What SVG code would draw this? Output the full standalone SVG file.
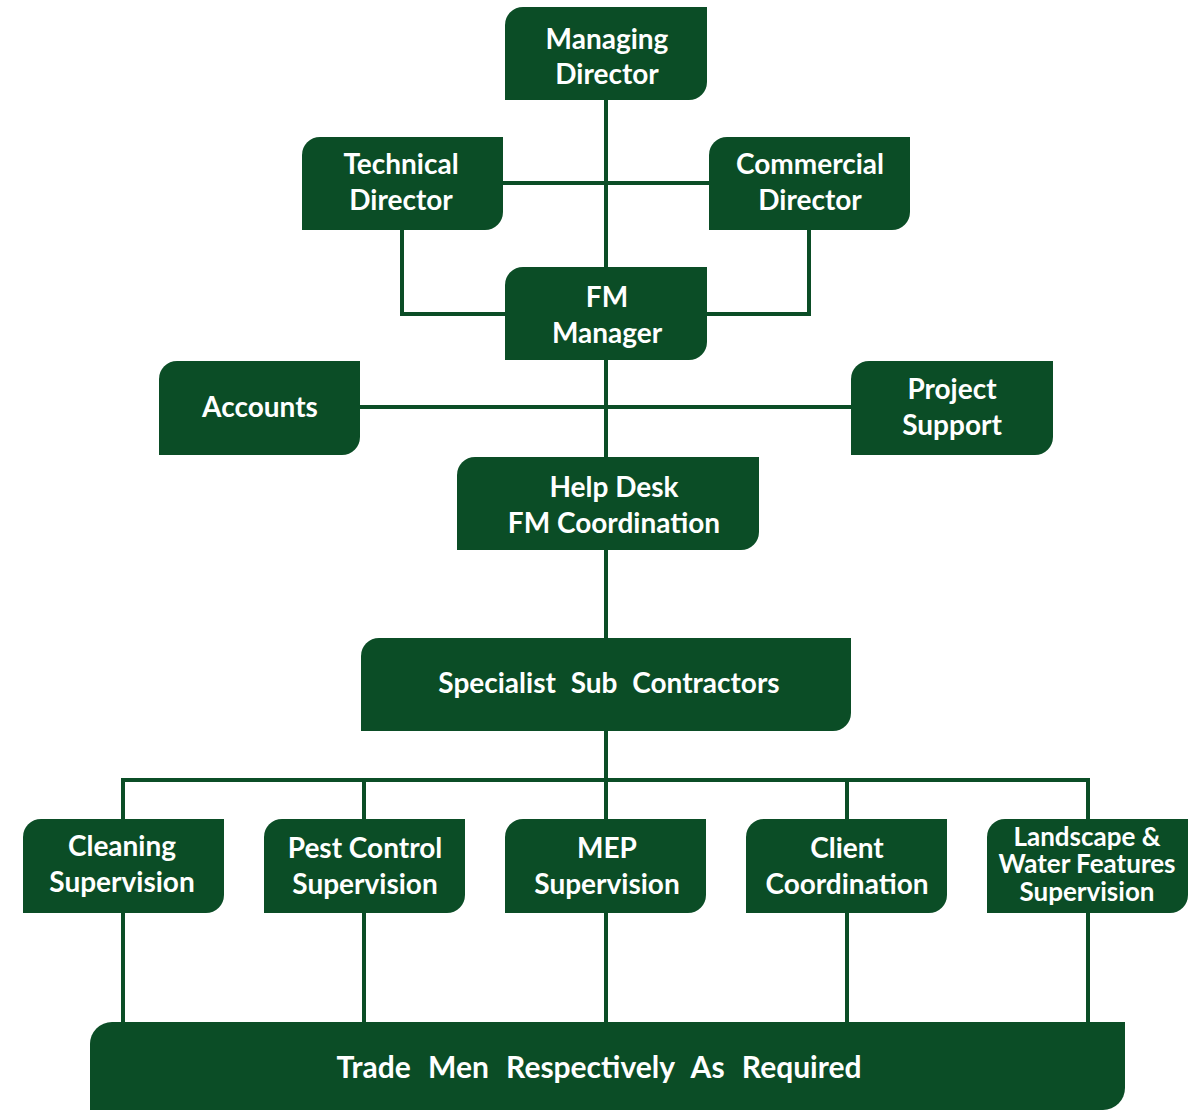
<svg xmlns="http://www.w3.org/2000/svg" width="1202" height="1110" viewBox="0 0 1202 1110">
<style>
.box{fill:#0b4d26;}
.ln{fill:none;stroke:#0b4d26;stroke-width:4;}
text{font-family:Lato,"Noto Sans","DejaVu Sans",sans-serif;font-weight:bold;font-size:28px;fill:#ffffff;text-anchor:middle;dominant-baseline:central;}
.wide{word-spacing:8px;}
.small{font-size:26px;}
.big{font-size:30px;word-spacing:10px;}
</style>
<rect width="1202" height="1110" fill="#ffffff"/>
<g id="connectors">
<path class="ln" d="M606,100 V1022"/>
<path class="ln" d="M503,183 H709"/>
<path class="ln" d="M402,230 V314 H505"/>
<path class="ln" d="M809,230 V314 H707"/>
<path class="ln" d="M360,407 H851"/>
<path class="ln" d="M123,819 V780 H1088 V819"/>
<path class="ln" d="M364,780 V819 M847,780 V819"/>
<path class="ln" d="M123,913 V1022 M364,913 V1022 M847,913 V1022 M1088,913 V1022"/>
</g>
<g id="managing-director">
<path class="box" d="M505,25 A18,18 0 0 1 523,7 H707 V82 A18,18 0 0 1 689,100 H505 Z"/>
<text x="607" y="38">Managing</text><text x="607" y="73">Director</text>
</g>
<g id="technical-director">
<path class="box" d="M302,155 A18,18 0 0 1 320,137 H503 V212 A18,18 0 0 1 485,230 H302 Z"/>
<text x="401" y="163">Technical</text><text x="401" y="199">Director</text>
</g>
<g id="commercial-director">
<path class="box" d="M709,155 A18,18 0 0 1 727,137 H910 V212 A18,18 0 0 1 892,230 H709 Z"/>
<text x="810" y="163">Commercial</text><text x="810" y="199">Director</text>
</g>
<g id="fm-manager">
<path class="box" d="M505,285 A18,18 0 0 1 523,267 H707 V342 A18,18 0 0 1 689,360 H505 Z"/>
<text x="607" y="296">FM</text><text x="607" y="332">Manager</text>
</g>
<g id="accounts">
<path class="box" d="M159,379 A18,18 0 0 1 177,361 H360 V437 A18,18 0 0 1 342,455 H159 Z"/>
<text x="260" y="406">Accounts</text>
</g>
<g id="project-support">
<path class="box" d="M851,379 A18,18 0 0 1 869,361 H1053 V437 A18,18 0 0 1 1035,455 H851 Z"/>
<text x="952" y="388">Project</text><text x="952" y="424">Support</text>
</g>
<g id="help-desk">
<path class="box" d="M457,475 A18,18 0 0 1 475,457 H759 V532 A18,18 0 0 1 741,550 H457 Z"/>
<text x="614" y="486">Help Desk</text><text x="614" y="522">FM Coordination</text>
</g>
<g id="specialist-sub-contractors">
<path class="box" d="M361,656 A18,18 0 0 1 379,638 H851 V713 A18,18 0 0 1 833,731 H361 Z"/>
<text class="wide" x="609" y="682">Specialist Sub Contractors</text>
</g>
<g id="cleaning-supervision">
<path class="box" d="M23,837 A18,18 0 0 1 41,819 H224 V895 A18,18 0 0 1 206,913 H23 Z"/>
<text x="122" y="845">Cleaning</text><text x="122" y="881">Supervision</text>
</g>
<g id="pest-control-supervision">
<path class="box" d="M264,837 A18,18 0 0 1 282,819 H465 V895 A18,18 0 0 1 447,913 H264 Z"/>
<text x="365" y="847">Pest Control</text><text x="365" y="883">Supervision</text>
</g>
<g id="mep-supervision">
<path class="box" d="M505,837 A18,18 0 0 1 523,819 H706 V895 A18,18 0 0 1 688,913 H505 Z"/>
<text x="607" y="847">MEP</text><text x="607" y="883">Supervision</text>
</g>
<g id="client-coordination">
<path class="box" d="M746,837 A18,18 0 0 1 764,819 H947 V895 A18,18 0 0 1 929,913 H746 Z"/>
<text x="847" y="847">Client</text><text x="847" y="883">Coordination</text>
</g>
<g id="landscape-supervision">
<path class="box" d="M987,837 A18,18 0 0 1 1005,819 H1188 V895 A18,18 0 0 1 1170,913 H987 Z"/>
<text class="small" x="1087" y="836">Landscape &amp;</text><text class="small" x="1087" y="863">Water Features</text><text class="small" x="1087" y="891">Supervision</text>
</g>
<g id="trade-men">
<path class="box" d="M90,1044 A22,22 0 0 1 112,1022 H1125 V1088 A22,22 0 0 1 1103,1110 H90 Z"/>
<text class="big" x="599" y="1066" textLength="525" lengthAdjust="spacingAndGlyphs">Trade Men Respectively As Required</text>
</g>
</svg>
